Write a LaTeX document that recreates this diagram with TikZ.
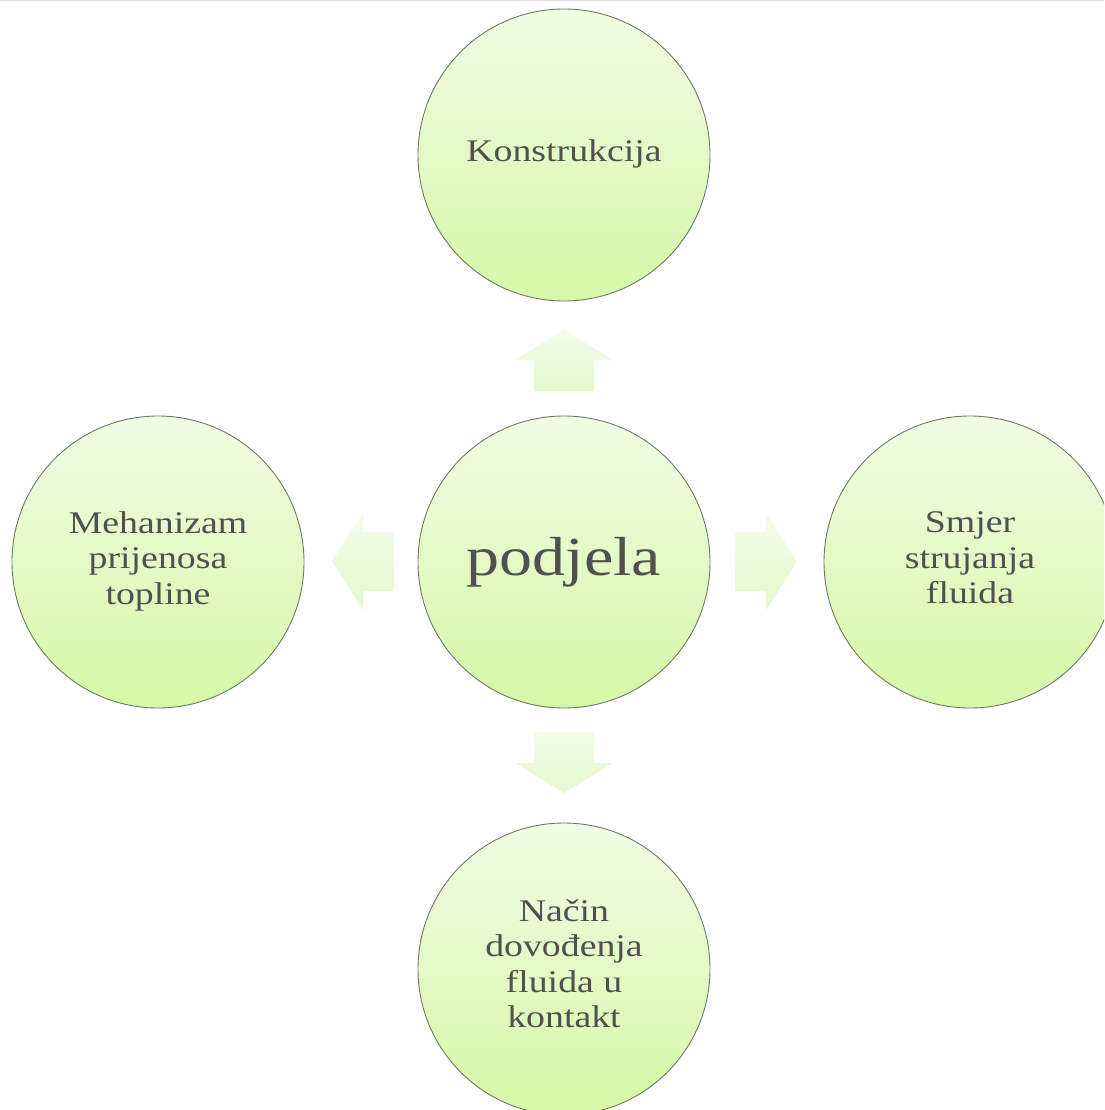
\documentclass[tikz,border=0pt]{standalone}
\usepackage{fontspec}
\setmainfont[FakeStretch=1.2]{Liberation Serif}
\definecolor{ctop}{HTML}{F1FCE4}
\definecolor{cbot}{HTML}{D5F8A6}
\definecolor{bordc}{HTML}{6F7A66}
\definecolor{txt}{HTML}{505050}
\definecolor{atop}{HTML}{F4FCEB}
\definecolor{abot}{HTML}{E4F9CC}
\begin{document}
\begin{tikzpicture}[x=1pt,y=1pt,
  bubble/.style={circle, minimum size=292pt, inner sep=0pt, draw=bordc, line width=0.9pt,
    top color=ctop, bottom color=cbot},
  lbl/.style={text=txt, align=center, inner sep=0pt,
    font=\fontsize{31.5}{35.5}\selectfont},
  blockarrow/.style={top color=atop, bottom color=abot, draw=none}]
\useasboundingbox (0,0) rectangle (1104,-1110);
\clip (0,0) rectangle (1104,-1110);
\draw[black!12, line width=1.2pt] (0,-0.6) -- (1104,-0.6);
% block arrows
\path[blockarrow] (534,-391) -- (534,-360) -- (515,-360) -- (564,-330) -- (613,-360) -- (594,-360) -- (594,-391) -- cycle;
\path[blockarrow] (534,-732) -- (594,-732) -- (594,-763) -- (613,-763) -- (564,-793) -- (515,-763) -- (534,-763) -- cycle;
\path[blockarrow] (394,-532) -- (363,-532) -- (363,-513) -- (332,-561) -- (363,-610) -- (363,-591) -- (394,-591) -- cycle;
\path[blockarrow] (735,-532) -- (766,-532) -- (766,-513) -- (797,-562) -- (766,-610) -- (766,-591) -- (735,-591) -- cycle;
% circles
\node[bubble] (top) at (564,-155) {};
\node[bubble] (center) at (564,-562) {};
\node[bubble] (left) at (158,-562) {};
\node[bubble] (right) at (970,-562) {};
\node[bubble] (bottom) at (564,-969) {};
% labels
\node[lbl] (topT) at ([yshift=1pt]top.center) {Konstrukcija};
\node[lbl, font=\fontsize{55}{60}\selectfont] (centerT) at ([yshift=0pt]center.center) {podjela};
\node[lbl] (leftT) at ([yshift=1pt]left.center) {Mehanizam\\prijenosa\\topline};
\node[lbl] (rightT) at ([yshift=4pt]right.center) {Smjer\\strujanja\\fluida};
\node[lbl] (bottomT) at ([yshift=5.5pt]bottom.center) {Način\\dovođenja\\fluida u\\kontakt};
\end{tikzpicture}
\end{document}
